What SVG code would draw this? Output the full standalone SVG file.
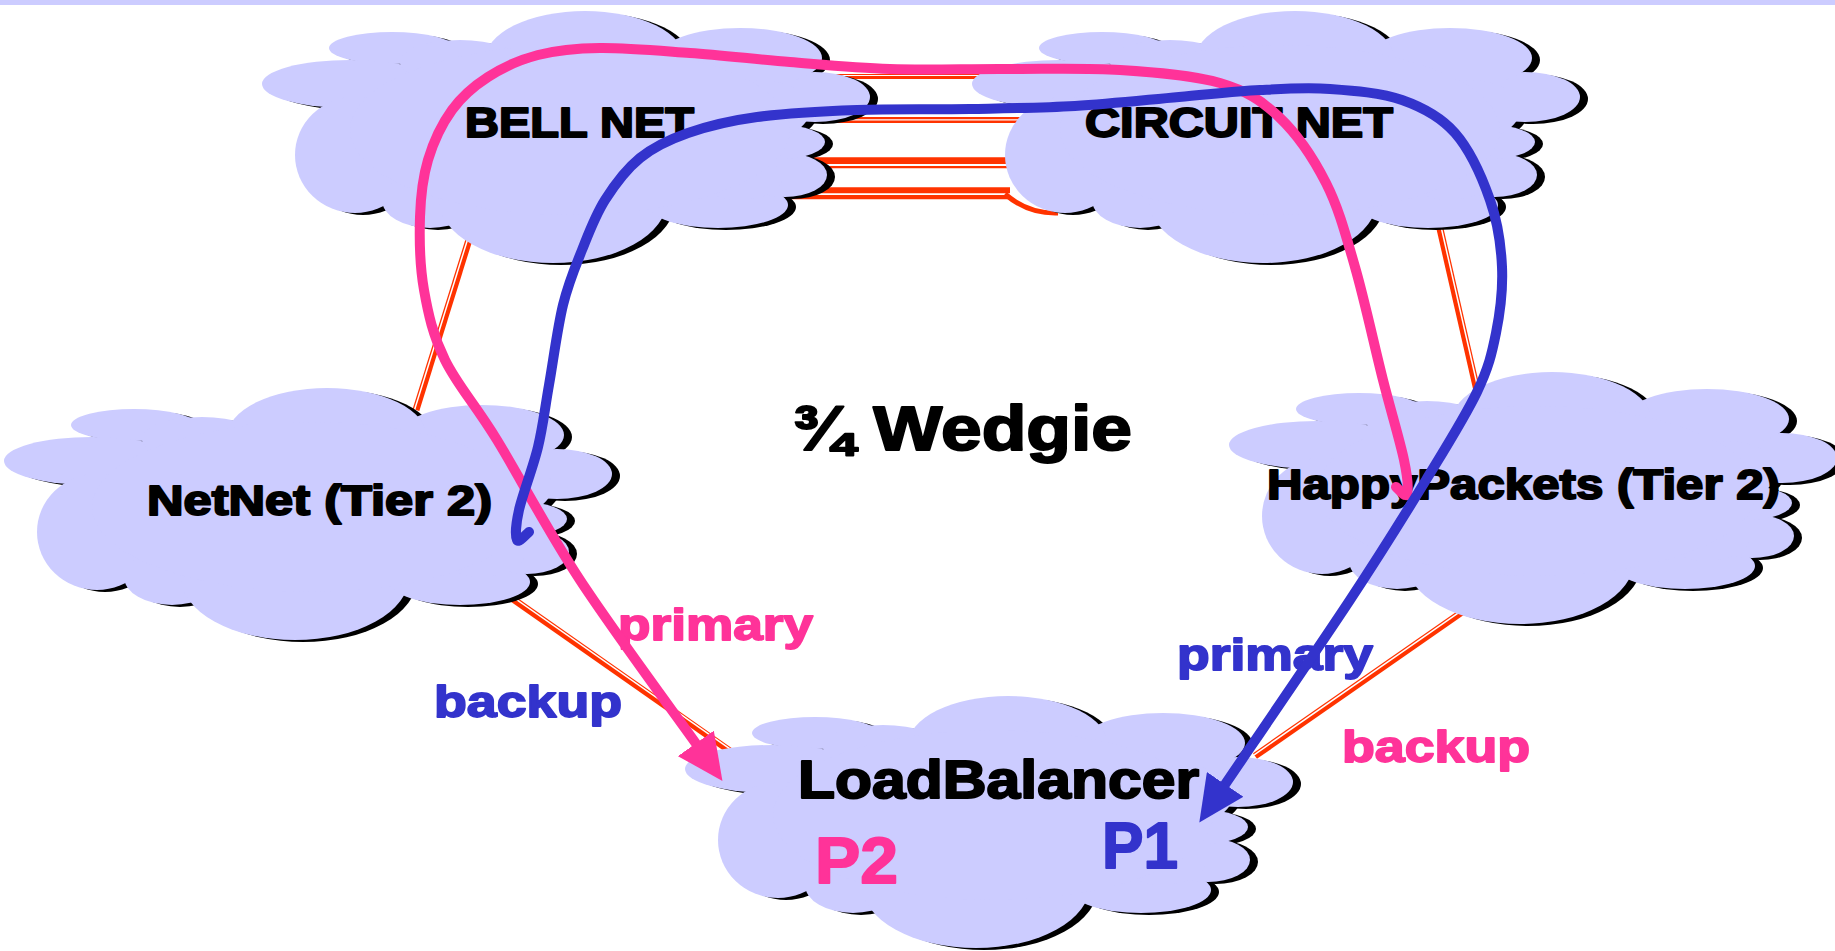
<svg xmlns="http://www.w3.org/2000/svg" width="1835" height="951" viewBox="0 0 1835 951">
<defs>
<style>
.t{font-family:"Liberation Sans",Arial,Helvetica,sans-serif;font-weight:bold;stroke-linejoin:round;}
.nt{font-size:43px;fill:#000;stroke:#000;stroke-width:2;}
.pk{fill:#FF3399;stroke:#FF3399;stroke-width:1.8;}
.bl{fill:#3333CC;stroke:#3333CC;stroke-width:1.8;}
.link{fill:none;stroke:#FF3300;stroke-width:7;}
.lw{fill:none;stroke:#FFFFFF;stroke-width:1.5;}
.route{fill:none;stroke-width:10;stroke-linecap:round;stroke-linejoin:round;}
</style>
<g id="cloud">
<ellipse cx="392" cy="48" rx="63" ry="16"/>
<ellipse cx="350" cy="84" rx="88" ry="24"/>
<ellipse cx="355" cy="155" rx="60" ry="58"/>
<ellipse cx="430" cy="200" rx="48" ry="28"/>
<ellipse cx="553" cy="200" rx="114" ry="63"/>
<ellipse cx="718" cy="205" rx="70" ry="23"/>
<ellipse cx="785" cy="175" rx="42" ry="22"/>
<ellipse cx="780" cy="142" rx="45" ry="17"/>
<ellipse cx="815" cy="97" rx="55" ry="25"/>
<ellipse cx="740" cy="58" rx="82" ry="30"/>
<ellipse cx="585" cy="60" rx="100" ry="49"/>
<ellipse cx="460" cy="62" rx="60" ry="22"/>
<ellipse cx="760" cy="110" rx="50" ry="30"/>
<ellipse cx="740" cy="178" rx="42" ry="22"/>
<ellipse cx="570" cy="130" rx="220" ry="85"/>
</g>
<marker id="arrowPink" markerUnits="userSpaceOnUse" markerWidth="46" markerHeight="44" refX="2" refY="22" orient="auto">
<path d="M0,0 L46,22 L0,44 Z" fill="#FF3399"/>
</marker>
<marker id="arrowBlue" markerUnits="userSpaceOnUse" markerWidth="46" markerHeight="44" refX="2" refY="22" orient="auto">
<path d="M0,0 L46,22 L0,44 Z" fill="#3333CC"/>
</marker>
</defs>

<rect x="0" y="0" width="1835" height="5" fill="#CCCCFF"/>

<g id="links">
<path class="link" d="M760,76.5 H1060" style="stroke-width:5"/>
<path class="lw" d="M760,75.5 H1060" style="stroke-width:1.2"/>
<path class="link" d="M760,120 H1060" style="stroke-width:6"/>
<path class="lw" d="M760,119.8 H1060" style="stroke-width:1.3"/>
<path class="link" d="M760,162.7 H1060" style="stroke-width:11"/>
<path class="lw" d="M760,165 H1060" style="stroke-width:1.8"/>
<path class="link" d="M760,193.3 H1010" style="stroke-width:12"/>
<path class="lw" d="M760,194.2 H1010" style="stroke-width:1.7"/>
<path class="link" d="M1005,194 Q1028,214 1058,213" style="stroke-width:5"/>
<path class="link" d="M472,230 L416,410"/>
<path class="lw" d="M470.5,230 L414.5,410"/>
<path class="link" d="M1438,220 L1478,395"/>
<path class="lw" d="M1439.5,220 L1479.5,395"/>
<path class="link" d="M500,590 L740,758"/>
<path class="lw" d="M501,588.7 L741,756.7"/>
<path class="link" d="M1465,610 L1255,756"/>
<path class="lw" d="M1464.1,608.8 L1254.1,754.8"/>
</g>

<g id="bellnet">
<use href="#cloud" x="8" y="2" fill="#000000"/>
<use href="#cloud" fill="#CCCCFF"/>
<text class="t nt" x="465" y="137" textLength="229" lengthAdjust="spacingAndGlyphs">BELL NET</text>
</g>

<g id="circuitnet">
<use href="#cloud" x="718" y="2" fill="#000000"/>
<use href="#cloud" x="710" y="0" fill="#CCCCFF"/>
<text class="t nt" x="1085" y="137" textLength="308" lengthAdjust="spacingAndGlyphs">CIRCUIT NET</text>
</g>

<g id="netnet">
<use href="#cloud" x="-250" y="379" fill="#000000"/>
<use href="#cloud" x="-258" y="377" fill="#CCCCFF"/>
<text class="t nt" x="147" y="515" style="font-size:42px" textLength="345" lengthAdjust="spacingAndGlyphs">NetNet (Tier 2)</text>
</g>

<g id="happypackets">
<use href="#cloud" x="975" y="363" fill="#000000"/>
<use href="#cloud" x="967" y="361" fill="#CCCCFF"/>
<text class="t nt" x="1267" y="499" textLength="513" lengthAdjust="spacingAndGlyphs">HappyPackets (Tier 2)</text>
</g>

<g id="loadbalancer">
<use href="#cloud" x="431" y="687" fill="#000000"/>
<use href="#cloud" x="423" y="685" fill="#CCCCFF"/>
<text class="t nt" x="798" y="798" style="font-size:53px" textLength="401" lengthAdjust="spacingAndGlyphs">LoadBalancer</text>
<text class="t pk" x="815" y="883" style="font-size:64px" textLength="83" lengthAdjust="spacingAndGlyphs">P2</text>
<text class="t bl" x="1102" y="868" style="font-size:64px" textLength="76" lengthAdjust="spacingAndGlyphs">P1</text>
</g>

<g id="title">
<text class="t nt" x="792" y="450" style="font-size:63px" textLength="340" lengthAdjust="spacingAndGlyphs">¾ Wedgie</text>
</g>

<g id="labels">
<text class="t pk" x="618" y="640" style="font-size:45px" textLength="195" lengthAdjust="spacingAndGlyphs">primary</text>
<text class="t bl" x="434" y="717" style="font-size:45px" textLength="188" lengthAdjust="spacingAndGlyphs">backup</text>
<text class="t bl" x="1177" y="670" style="font-size:45px" textLength="196" lengthAdjust="spacingAndGlyphs">primary</text>
<text class="t pk" x="1342" y="762" style="font-size:45px" textLength="188" lengthAdjust="spacingAndGlyphs">backup</text>
</g>

<g id="routes">
<path class="route" stroke="#FF3399" marker-end="url(#arrowPink)" d="M1396,487 C1397.8,488.2 1405.7,498.5 1407,494 C1408.3,489.5 1408,479 1404,460 C1400,441 1391.2,412.2 1383,380 C1374.8,347.8 1364.5,299.8 1355,267 C1345.5,234.2 1338.7,208 1326,183 C1313.3,158 1296.7,133.7 1279,117 C1261.3,100.3 1246.5,90.8 1220,83 C1193.5,75.2 1155.8,72.3 1120,70 C1084.2,67.7 1043.3,69.2 1005,69 C966.7,68.8 925.8,70.2 890,69 C854.2,67.8 823.3,64.7 790,62 C756.7,59.3 721.7,55.3 690,53 C658.3,50.7 625.3,47.7 600,48 C574.7,48.3 556.7,50.2 538,55 C519.3,59.8 502.3,67.8 488,77 C473.7,86.2 462,96.2 452,110 C442,123.8 433.3,142.2 428,160 C422.7,177.8 420.7,195.3 420,217 C419.3,238.7 419.8,266.2 424,290 C428.2,313.8 432.8,335 445,360 C457.2,385 474.5,403.3 497,440 C519.5,476.7 546.7,529.2 580,580 C613.3,630.8 677.5,717.5 697,745"/>
<path class="route" stroke="#3333CC" marker-end="url(#arrowBlue)" d="M529,532 C527,533.3 518.7,543.7 517,540 C515.3,536.3 515.5,525.5 519,510 C522.5,494.5 533,467.8 538,447 C543,426.2 544.8,408.7 549,385 C553.2,361.3 557.5,327.5 563,305 C568.5,282.5 575,267.5 582,250 C589,232.5 595.3,215.3 605,200 C614.7,184.7 626.2,169.2 640,158 C653.8,146.8 668.5,139.8 688,133 C707.5,126.2 728.8,120.8 757,117 C785.2,113.2 821.5,111.3 857,110 C892.5,108.7 933.7,109.7 970,109 C1006.3,108.3 1040.2,108 1075,106 C1109.8,104 1148.2,99.7 1179,97 C1209.8,94.3 1234.8,91.3 1260,90 C1285.2,88.7 1306.3,87.3 1330,89 C1353.7,90.7 1381.2,92.7 1402,100 C1422.8,107.3 1440.3,116.3 1455,133 C1469.7,149.7 1482.2,177.7 1490,200 C1497.8,222.3 1501,244.8 1502,267 C1503,289.2 1500.2,312.2 1496,333 C1491.8,353.8 1488.7,367.5 1477,392 C1465.3,416.5 1447.2,445.3 1426,480 C1404.8,514.7 1383.7,549 1350,600 C1316.3,651 1245,755 1224,786"/>
</g>
</svg>
